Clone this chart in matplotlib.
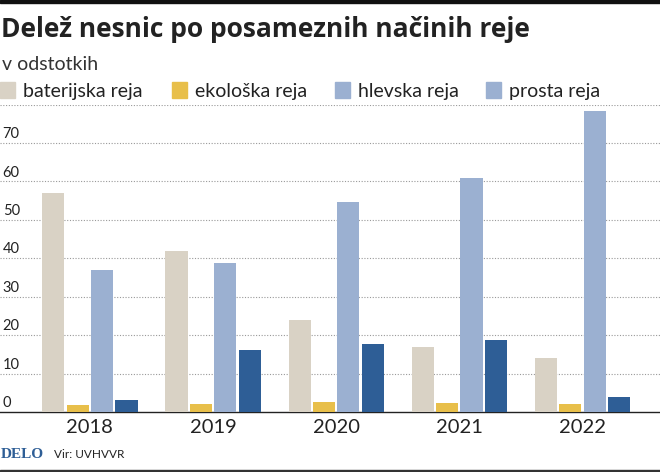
import matplotlib.pyplot as plt
from matplotlib.patches import Rectangle
import numpy as np

years = ['2018', '2019', '2020', '2021', '2022']
series = ['baterijska reja', 'ekološka reja', 'hlevska reja', 'prosta reja']
baterijska = [57.0, 42.0, 24.0, 16.8, 14.1]
ekoloska = [1.8, 2.1, 2.6, 2.3, 2.2]
hlevska = [37.0, 38.8, 54.6, 61.0, 78.4]
prosta = [3.0, 16.1, 17.7, 18.7, 4.0]
bar_colors = ['#d9d2c5', '#e8bf4a', '#9bb0d1', '#2e5e96']
legend_colors = ['#d9d2c5', '#e8bf4a', '#9bb0d1', '#9bb0d1']
yticks = [0, 10, 20, 30, 40, 50, 60, 70]

W, H = 660, 472
fig = plt.figure(figsize=(W / 100, H / 100), dpi=100)
fnt = ['Lato', 'DejaVu Sans']

ax = fig.add_axes([0, (H - 412) / H, 1, (412 - 104.6) / H])
x = np.arange(len(years))
vals = [baterijska, ekoloska, hlevska, prosta]
w = 0.18
step = 0.198
for i, v in enumerate(vals):
    ax.bar(x + (i - 1.5) * step, v, width=w, color=bar_colors[i], zorder=3)

ax.set_xlim(-0.73, 4.63)
ax.set_ylim(0, 80)
for g in range(10, 90, 10):
    ax.axhline(g, color='#999999', lw=0.8, ls=(0, (1, 1.5)), zorder=1)
for t in yticks:
    ax.text(0.004, t + 0.5, str(t), transform=ax.get_yaxis_transform(),
            ha='left', va='bottom', fontsize=10.5, color='#222222', family=fnt)
ax.set_yticks([])
ax.set_xticks(x)
ax.set_xticklabels(years, fontsize=14.5, family=fnt, color='#222222')
ax.tick_params(axis='x', length=0, pad=5)
for s in ['left', 'right', 'top']:
    ax.spines[s].set_visible(False)
ax.spines['bottom'].set_color('#222222')
ax.spines['bottom'].set_linewidth(1.0)

# title / subtitle
fig.text(1 / W, 1 - 37 / H, 'Delež nesnic po posameznih načinih reje', fontsize=19,
         fontweight='bold', family=['Open Sans', 'DejaVu Sans'], color='#222222',
         va='baseline', ha='left')
fig.text(2 / W, 1 - 70 / H, 'v odstotkih', fontsize=14, family=fnt,
         color='#333333', va='baseline', ha='left')

# legend
lx = [0, 172, 335, 486]
for i, lab in enumerate(series):
    fig.patches.append(Rectangle((lx[i] / W, 1 - 97.5 / H), 15 / W, 15 / H,
                                 transform=fig.transFigure, color=legend_colors[i]))
    fig.text((lx[i] + 23) / W, 1 - 97 / H, lab, fontsize=14, family=fnt,
             color='#222222', va='baseline', ha='left')

# frame lines
fig.patches.append(Rectangle((0, 1 - 3 / H), 1, 3 / H, transform=fig.transFigure, color='#111111'))
fig.patches.append(Rectangle((0, 0), 1, 2 / H, transform=fig.transFigure, color='#333333'))

# footer
fig.text(1 / W, 1 - 458 / H, 'DELO', fontsize=11, fontweight='bold',
         family=['Liberation Serif', 'DejaVu Serif'], color='#2e5e96', va='baseline')
fig.text(54 / W, 1 - 458 / H, 'Vir: UVHVVR', fontsize=8.5,
         family=fnt, color='#222222', va='baseline')

fig.savefig('out.png', dpi=100)
